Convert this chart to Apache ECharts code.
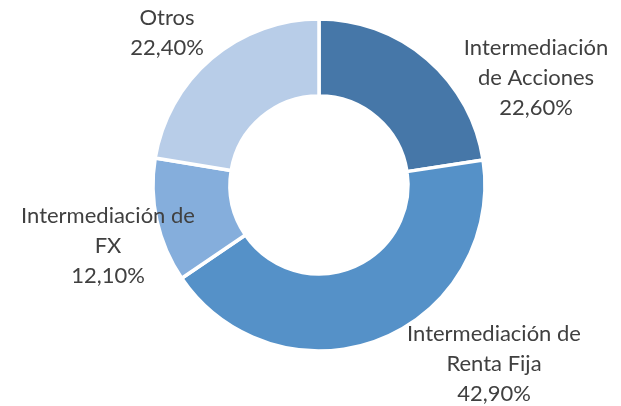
<!DOCTYPE html>
<html>
<head>
<meta charset="utf-8">
<style>
	html, body { margin: 0; padding: 0; background: #fff; }
	#chart { width: 621px; height: 406px; }
</style>
<script src="https://cdn.jsdelivr.net/npm/echarts@6/dist/echarts.min.js"></script>
</head>
<body>
<div id="chart"></div>
<script>
// datos del grafico
const categories = ['Intermediación\nde Acciones', 'Intermediación de\nRenta Fija', 'Intermediación de\nFX', 'Otros']
const values = [22.6, 42.9, 12.1, 22.4]
const colors = ['#4677a8', '#5591c8', '#85aedc', '#b8cde8']

// posicion de las etiquetas (centro del bloque de texto)
const labelPos = [
	[536, 78],
	[494, 364],
	[108, 246],
	[167, 33],
]

const myChart = echarts.init(document.getElementById('chart'))

const option = {
	animation: false,
	series: [
		{
			type: 'pie',
			center: [319, 185],
			radius: [89, 166],
			startAngle: 90,
			clockwise: true,
			itemStyle: {
				borderColor: '#fff',
				borderWidth: 3.5,
			},
			label: {
				show: true,
				position: 'outside',
				alignTo: 'none',
				overflow: 'none',
				color: '#404040',
				fontFamily: 'Lato',
				fontSize: 22,
				lineHeight: 30,
				align: 'center',
				formatter: (p) => p.name + '\n' + p.value.toFixed(2).replace('.', ',') + '%',
			},
			labelLine: { show: false },
			labelLayout: (params) => ({
				x: labelPos[params.dataIndex][0],
				y: labelPos[params.dataIndex][1],
				width: 300,
				align: 'center',
				verticalAlign: 'middle',
			}),
			emphasis: { disabled: true },
			data: categories.map((name, i) => ({
				name: name,
				value: values[i],
				itemStyle: { color: colors[i] },
			})),
		},
	],
}

myChart.setOption(option)
</script>
</body>
</html>
